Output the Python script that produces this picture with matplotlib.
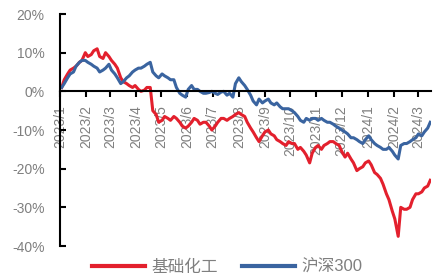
import matplotlib
matplotlib.use("Agg")
import matplotlib.pyplot as plt
import pandas as pd

# two samples a week (Tue, Fri) from 2023-01-03 to 2024-03-15
tue = pd.date_range("2023-01-03", periods=63, freq="7D")
dates = sorted(list(tue) + list(tue + pd.Timedelta(days=3)))

# 基础化工 cumulative return (%), Tue/Fri pairs
chem = [1.0, 3.0, 4.5, 5.5, 6.0, 6.5, 7.5, 8.0, 10.0, 9.0,
        9.5, 10.5, 11.0, 9.0, 8.5, 10.0, 9.0, 8.0, 7.0, 6.0,
        3.5, 2.5, 2.0, 1.5, 1.0, 1.5, 0.5, 0.0, 0.3, 1.0,
        1.0, -5.0, -6.0, -8.0, -7.5, -6.5, -7.0, -7.5, -6.5, -7.0,
        -8.0, -9.0, -9.5, -9.0, -8.0, -7.0, -7.5, -8.5, -8.0, -8.0,
        -9.0, -10.0, -9.0, -8.0, -7.0, -7.0, -7.5, -7.0, -6.5, -6.0,
        -5.5, -6.0, -6.5, -8.0, -9.5, -10.5, -12.0, -13.0, -11.5, -10.5,
        -10.0, -11.0, -11.5, -12.5, -13.0, -13.5, -14.0, -13.0, -13.5, -13.5,
        -15.0, -14.5, -15.5, -16.5, -18.5, -16.0, -14.5, -14.0, -15.0, -14.0,
        -13.5, -13.0, -13.0, -13.5, -14.0, -15.5, -17.0, -16.0, -17.5, -18.5,
        -20.5, -20.0, -19.5, -18.5, -18.0, -19.0, -21.0, -21.5, -22.5, -24.0,
        -26.5, -28.0, -31.0, -33.0, -37.5, -30.0, -30.5, -30.5, -30.0, -28.0,
        -26.5, -26.5, -26.0, -25.0, -24.5, -23.0]

# 沪深300 cumulative return (%), Tue/Fri pairs
hs300 = [1.0, 2.0, 3.5, 4.5, 5.0, 6.5, 7.5, 8.0, 8.0, 7.5,
         7.0, 6.5, 6.0, 5.0, 5.5, 6.0, 7.0, 5.5, 4.5, 3.5,
         2.0, 2.5, 3.5, 4.0, 5.0, 5.5, 6.0, 6.0, 6.5, 7.0,
         7.5, 5.0, 4.0, 3.5, 4.5, 4.0, 3.5, 3.0, 3.0, 1.0,
         -0.5, -1.0, -1.5, 0.5, 1.5, 0.5, 0.5, 0.0, -0.5, -0.5,
         -0.3, 0.0, -0.5, -0.8, -0.2, 0.0, -1.0, -0.5, -1.5, 2.0,
         3.5, 2.5, 1.5, 0.5, -1.0, -2.5, -3.5, -2.0, -3.0, -2.5,
         -2.0, -3.0, -3.5, -3.0, -4.0, -4.5, -4.5, -4.5, -5.0, -5.5,
         -6.5, -7.5, -8.0, -7.0, -7.5, -7.0, -7.0, -7.5, -7.0, -7.5,
         -8.0, -8.0, -8.5, -9.0, -9.5, -10.0, -10.5, -11.0, -12.0, -12.0,
         -12.5, -13.0, -13.5, -12.5, -11.5, -12.5, -13.5, -14.0, -14.5, -15.0,
         -15.0, -14.5, -15.5, -16.5, -17.5, -14.0, -13.5, -13.5, -13.0, -12.5,
         -12.0, -11.0, -11.5, -10.5, -9.5, -8.0]

month_ticks = pd.date_range("2023-01-01", "2024-03-01", freq="MS")
month_labels = [f"{d.year}/{d.month}" for d in month_ticks]
y_ticks = [20, 10, 0, -10, -20, -30, -40]
y_labels = ["20%", "10%", "0%", "-10%", "-20%", "-30%", "-40%"]

plt.rcParams["font.family"] = ["Liberation Sans", "Noto Sans CJK SC"]
grey = "#7f7f7f"

fig = plt.figure(figsize=(4.33, 2.80), dpi=100)
ax = fig.add_axes([0.1386, 0.1214, 0.857, 0.8286])

ax.plot(dates, chem, color="#e3202d", lw=2.2, label="基础化工")
ax.plot(dates, hs300, color="#3a64a0", lw=2.2, label="沪深300")

ax.set_ylim(-40, 20)
ax.set_xlim(pd.Timestamp("2023-01-01"), pd.Timestamp("2024-03-16"))

# only the left spine, plus the zero line acting as x axis
ax.spines["top"].set_visible(False)
ax.spines["right"].set_visible(False)
ax.spines["bottom"].set_position(("data", 0))
for s in ("left", "bottom"):
    ax.spines[s].set_linewidth(1.5)
    ax.spines[s].set_color("black")

ax.set_yticks(y_ticks)
ax.set_yticklabels(y_labels)
ax.tick_params(axis="y", direction="in", length=4, width=1.5, pad=11,
               labelsize=10, labelcolor=grey)

ax.set_xticks(month_ticks)
ax.set_xticklabels(month_labels, rotation=90, va="top", ha="center")
ax.tick_params(axis="x", direction="out", length=4, width=1.5, pad=6,
               labelsize=10, labelcolor=grey)

leg = fig.legend(loc="center", bbox_to_anchor=(0.525, 0.046), ncol=2,
                 frameon=False, fontsize=12, handlelength=3.2,
                 handletextpad=0.4, columnspacing=1.4)
for t in leg.get_texts():
    t.set_color(grey)
for l in leg.get_lines():
    l.set_linewidth(3)

fig.savefig("out.png", dpi=100)
